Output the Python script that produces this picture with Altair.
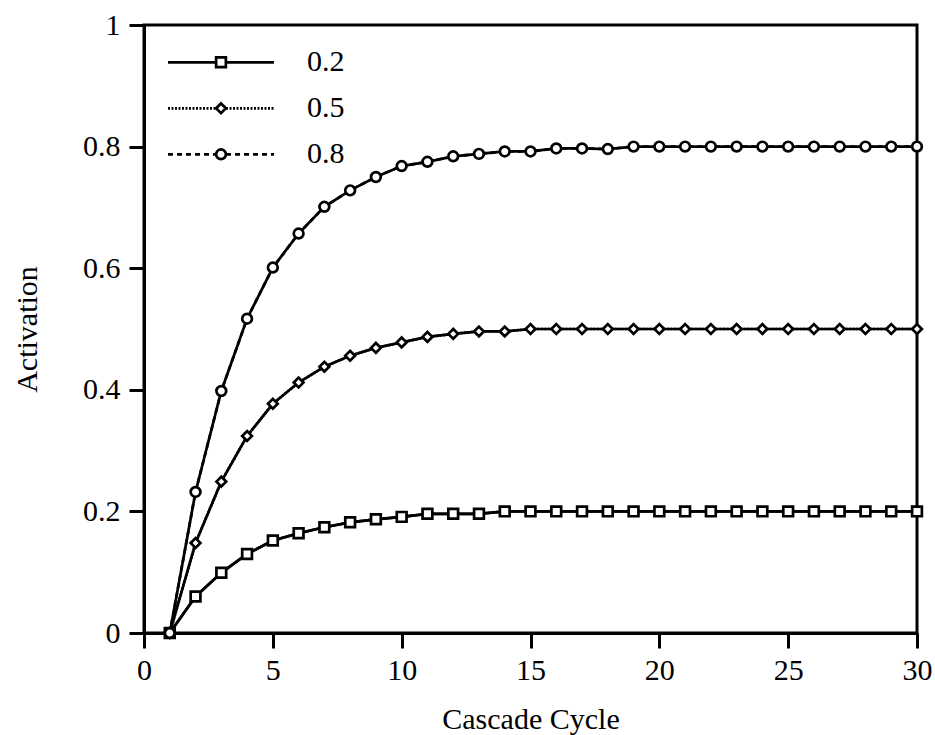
import altair as alt
import pandas as pd

cycles = list(range(1, 31))
series_labels = ["0.2", "0.5", "0.8"]
act_02 = [0.0, 0.060, 0.099, 0.130, 0.152, 0.164, 0.174, 0.182, 0.187, 0.191,
          0.196, 0.196, 0.196] + [0.2] * 17
act_05 = [0.0, 0.148, 0.249, 0.324, 0.377, 0.412, 0.438, 0.456, 0.469, 0.478,
          0.487, 0.492, 0.496, 0.496] + [0.5] * 16
act_08 = [0.0, 0.232, 0.398, 0.517, 0.601, 0.657, 0.701, 0.728, 0.750, 0.768,
          0.775, 0.784, 0.788, 0.792, 0.792, 0.797, 0.797, 0.796] + [0.8] * 12
x_ticks = [0, 5, 10, 15, 20, 25, 30]
y_ticks = [0, 0.2, 0.4, 0.6, 0.8, 1]

rows = []
for lab, vals in zip(series_labels, [act_02, act_05, act_08]):
    for c, v in zip(cycles, vals):
        rows.append({"cycle": c, "act": v, "series": lab, "mseries": lab})
df = pd.DataFrame(rows)

FONT = "Liberation Serif"

axis_style = dict(grid=False, domainColor="black", domainWidth=3,
                  tickColor="black", tickWidth=3, tickSize=15,
                  labelFont=FONT, labelFontSize=30, labelColor="black",
                  titleFont=FONT, titleFontSize=30, titleFontWeight="normal",
                  titleColor="black")

x = alt.X("cycle:Q", scale=alt.Scale(domain=[0, 30], nice=False),
          axis=alt.Axis(values=x_ticks, title="Cascade Cycle", labelFlush=False,
                        labelPadding=7, titlePadding=19, **axis_style))
y = alt.Y("act:Q", scale=alt.Scale(domain=[0, 1], nice=False),
          axis=alt.Axis(values=y_ticks, format="~g", title="Activation",
                        labelPadding=9, titlePadding=40, **axis_style))

base = alt.Chart(df)

dash_layer = base.mark_line(color="black", strokeWidth=2.7).encode(
    x=x, y=y,
    strokeDash=alt.StrokeDash(
        "series:N",
        scale=alt.Scale(range=[[1, 0], [2, 1.5], [5, 4]]),
        legend=alt.Legend(orient="none", legendX=62, legendY=22.3, title=None,
                          direction="vertical", padding=0,
                          symbolType="M-5.3,0H-0.5M0.5,0H5.3", symbolSize=400,
                          symbolStrokeWidth=2.7, symbolStrokeColor="black",
                          symbolOpacity=1, labelFont=FONT, labelFontSize=30,
                          labelColor="black", labelOffset=71, rowPadding=16),
    ),
)

line_layer = base.mark_line(color="black", strokeWidth=2.7).encode(
    x=x, y=y, detail="series:N"
)

point_layer = base.mark_point(filled=True, fill="white", stroke="black",
                              strokeWidth=2.7, opacity=1, size=95).encode(
    x=x, y=y,
    shape=alt.Shape(
        "mseries:N",
        scale=alt.Scale(range=["square", "diamond", "circle"]),
        legend=alt.Legend(orient="none", legendX=62, legendY=22.3, title=None,
                          direction="vertical", padding=0, symbolSize=95,
                          symbolStrokeWidth=2.7, symbolOpacity=1,
                          labelFont=FONT, labelFontSize=30, labelOpacity=0,
                          rowPadding=16),
    ),
)

chart = alt.layer(dash_layer, line_layer, point_layer).properties(
    width=773, height=608,
    autosize=alt.AutoSizeParams(type="none"),
    padding={"left": 144, "top": 25, "right": 18, "bottom": 102},
    background="white",
).configure_view(
    stroke="black", strokeWidth=3
).resolve_scale(shape="independent")

chart.save("out.html", embed_options={"renderer": "svg", "actions": False})
